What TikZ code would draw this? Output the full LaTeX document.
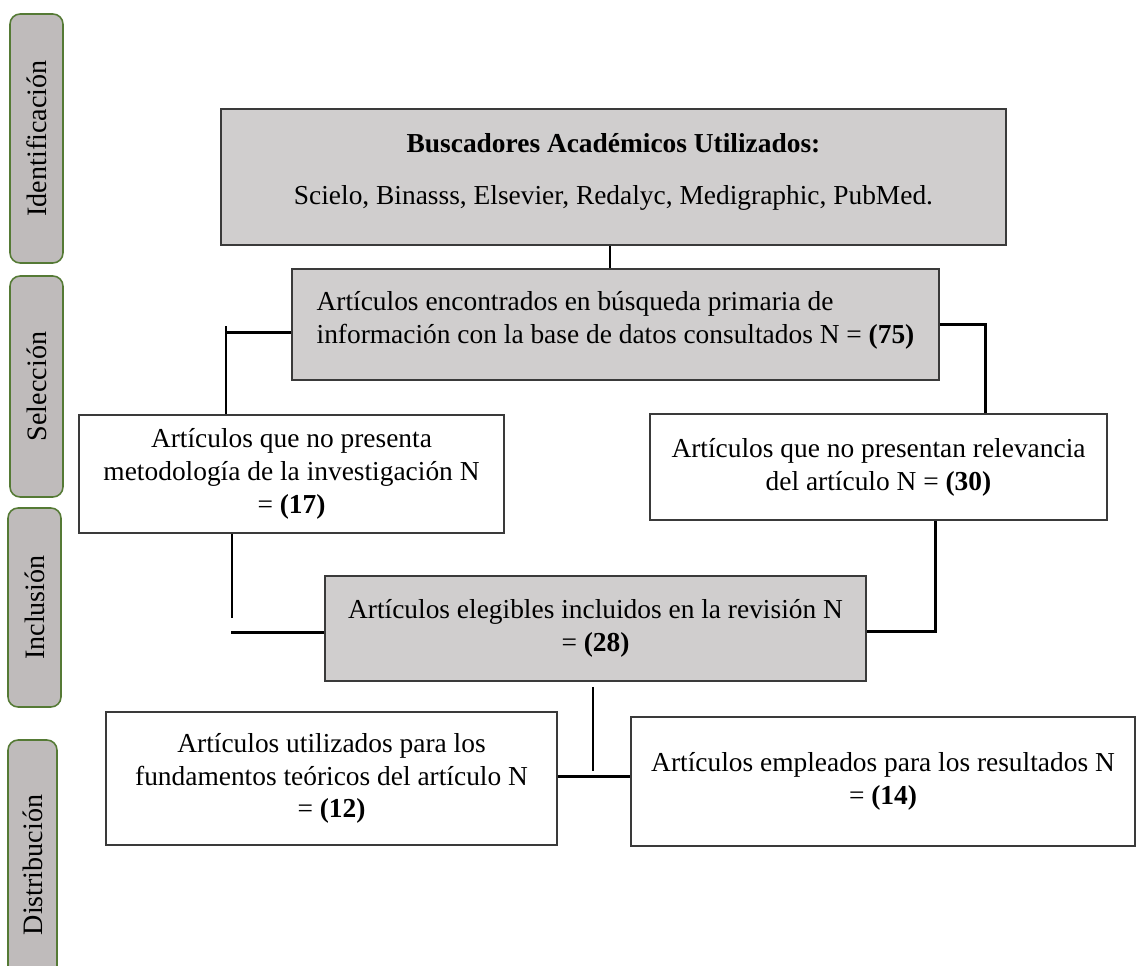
\documentclass[tikz,border=0pt]{standalone}
\usepackage{fontspec}
\setmainfont{Liberation Serif}
\definecolor{boxgray}{HTML}{D0CECE}
\definecolor{bargray}{HTML}{BFBBBB}
\definecolor{bargreen}{HTML}{557A35}
\definecolor{edgegray}{HTML}{3A3A3A}
\tikzset{
  txt/.style={font=\fontsize{15.6pt}{18.7pt}\selectfont},
  phase/.style={font=\fontsize{16pt}{19pt}\selectfont, draw=bargreen, fill=bargray, line width=0.9pt, rounded corners=0.2cm, rotate=90, inner sep=0pt},
  graybox/.style={txt, draw=edgegray, fill=boxgray, line width=1.1pt, inner sep=0pt, align=center},
  whitebox/.style={txt, draw=edgegray, fill=white, line width=1.1pt, inner sep=0pt, align=center},
  conn/.style={line width=1.7pt, black}
}
\begin{document}
\begin{tikzpicture}[x=0.02cm,y=-0.02cm]
\useasboundingbox (0,0) rectangle (1137,965);
% phase bars
\node[phase, minimum width=4.98cm, minimum height=1.06cm] (pid) at (36.5,138.5) {Identificación};
\node[phase, minimum width=4.42cm, minimum height=1.06cm] (psel) at (36.5,386.5) {Selección};
\node[phase, minimum width=3.98cm, minimum height=1.06cm] (pinc) at (34.5,607.5) {Inclusión};
\node[phase, minimum width=5.00cm, minimum height=0.98cm] (pdis) at (32.5,865) {Distribución};
% boxes
\node[graybox, minimum width=15.70cm, minimum height=2.72cm] (top) at (613.5,177)
  {\textbf{Buscadores Académicos Utilizados:}\\[11pt] Scielo, Binasss, Elsevier, Redalyc, Medigraphic, PubMed.\\[-9.7pt]\mbox{}};
\node[graybox, align=left, minimum width=12.94cm, minimum height=2.22cm] (b2) at (615.5,324.5)
  {Artículos encontrados en búsqueda primaria de\\ información con la base de datos consultados N = \textbf{(75)}\\[-11pt]\mbox{}};
\node[whitebox, minimum width=8.50cm, minimum height=2.36cm] (b3) at (291.5,474)
  {Artículos que no presenta\\ metodología de la investigación N\\ = \textbf{(17)}};
\node[whitebox, minimum width=9.14cm, minimum height=2.12cm] (b4) at (878.5,467)
  {Artículos que no presentan relevancia\\ del artículo N = \textbf{(30)}};
\node[graybox, minimum width=10.82cm, minimum height=2.10cm] (b5) at (595.5,628.5)
  {Artículos elegibles incluidos en la revisión N\\ = \textbf{(28)}};
\node[whitebox, minimum width=9.02cm, minimum height=2.66cm] (b6) at (331.5,778.5)
  {Artículos utilizados para los\\ fundamentos teóricos del artículo N\\ = \textbf{(12)}};
\node[whitebox, minimum width=10.08cm, minimum height=2.58cm] (b7) at (883,781.5)
  {Artículos empleados para los resultados N\\ = \textbf{(14)}};
% coordinates
\coordinate (t1) at (610,0);
\coordinate (L0) at (226,326);
\coordinate (L1) at (226,332);
\coordinate (R1) at (985,324);
\coordinate (L2a) at (232,618);
\coordinate (L2) at (231,632);
\coordinate (R2) at (935,631);
\coordinate (J) at (593,776);
% connectors
\draw[conn] (top.south -| t1) -- (b2.north -| t1);
\draw[conn] (b2.west |- L1) -- (L1);
\draw[conn] (L0) -- (L0 |- b3.north);
\draw[conn] (b2.east |- R1) -- (R1) -- (R1 |- b4.north);
\draw[conn] (L2a |- b3.south) -- (L2a);
\draw[conn] (L2) -- (L2 -| b5.west);
\draw[conn] (R2 |- b4.south) -- (R2) -- (R2 -| b5.east);
\draw[conn] ([yshift=-0.1cm]b5.south -| J) -- ([yshift=0.1cm]J);
\draw[conn] (J -| b6.east) -- (J -| b7.west);
\end{tikzpicture}
\end{document}
